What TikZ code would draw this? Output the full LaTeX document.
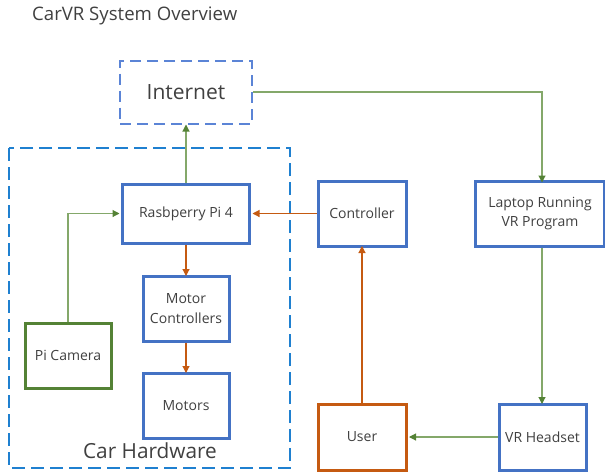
\documentclass[tikz,border=0pt]{standalone}
\usepackage{fontspec}
\setmainfont{Open Sans}
\usetikzlibrary{arrows.meta}
\definecolor{bluebox}{HTML}{4472C4}
\definecolor{inetblue}{HTML}{5B84D6}
\definecolor{greenbox}{HTML}{548235}
\definecolor{greenline}{HTML}{84A86A}
\definecolor{orangeline}{HTML}{C55A11}
\definecolor{dashblue}{HTML}{1F80D0}
\definecolor{txt}{HTML}{404040}
\begin{document}
\begin{tikzpicture}[x=1pt,y=-1pt,
  box/.style={draw=bluebox,line width=3pt,fill=white,text=txt,font=\fontsize{14}{19.5}\selectfont,align=center,inner sep=0pt},
  garrow/.style={draw=greenline,line width=1.1pt,-{Triangle[length=7pt,width=7pt,fill=greenbox,color=greenbox]}},
  oarrow/.style={draw=orangeline,line width=1.1pt,-{Triangle[length=7pt,width=7pt]}}]
\useasboundingbox (0,0) rectangle (605,472);
% title
\node[anchor=west,text=txt,font=\fontsize{18.6}{22}\selectfont,inner sep=0pt] (title) at (32,16) {CarVR System Overview};
% car hardware container
\draw[dashblue,line width=1.8pt,dash pattern=on 13pt off 6pt] (9,148) rectangle (290,468);
\node[text=txt,font=\fontsize{20.8}{24}\selectfont,inner sep=0pt] (carhw) at (150,451) {Car Hardware};
% internet
\node[draw=inetblue,line width=2pt,dash pattern=on 11pt off 6pt,minimum width=132pt,minimum height=63pt,text=txt,font=\fontsize{21}{24}\selectfont,inner sep=0pt] (inet) at (186,92) {Internet};
% boxes
\node[box,minimum width=127pt,minimum height=59pt] (pi) at (186,213.5) {Rasbperry Pi 4};
\node[box,minimum width=86pt,minimum height=65pt] (mc) at (186,308.5) {Motor\\Controllers};
\node[box,minimum width=86pt,minimum height=65pt] (mot) at (186,405.5) {Motors};
\node[box,draw=greenbox,minimum width=86pt,minimum height=65pt] (cam) at (68,355.5) {Pi Camera};
\node[box,minimum width=88pt,minimum height=65pt] (ctrl) at (362,213.5) {Controller};
\node[box,minimum width=129pt,minimum height=65pt] (lap) at (540,213.5) {Laptop Running\\VR Program};
\node[box,draw=orangeline,minimum width=88pt,minimum height=66pt] (user) at (362,437) {User};
\node[box,minimum width=87pt,minimum height=66pt] (vr) at (542.5,437) {VR Headset};
% connectors
\coordinate (lapin) at (542,181);
\draw[garrow] (pi.north) -- (inet.south);
\draw[garrow] (inet.east) -| ([yshift=-1.5pt]lapin);
\draw[garrow] (cam.north) |- ([xshift=-1.5pt]pi.west);
\draw[garrow] (lap.south -| lapin) -- ([yshift=-1.5pt]vr.north -| lapin);
\draw[garrow] (vr.west) -- ([xshift=1.5pt]user.east);
\draw[oarrow] (user.north) -- ([yshift=1.5pt]ctrl.south);
\draw[oarrow] (ctrl.west) -- ([xshift=1.5pt]pi.east);
\draw[oarrow] (pi.south) -- ([yshift=-1.5pt]mc.north);
\draw[oarrow] (mc.south) -- ([yshift=-1.5pt]mot.north);
\end{tikzpicture}
\end{document}
